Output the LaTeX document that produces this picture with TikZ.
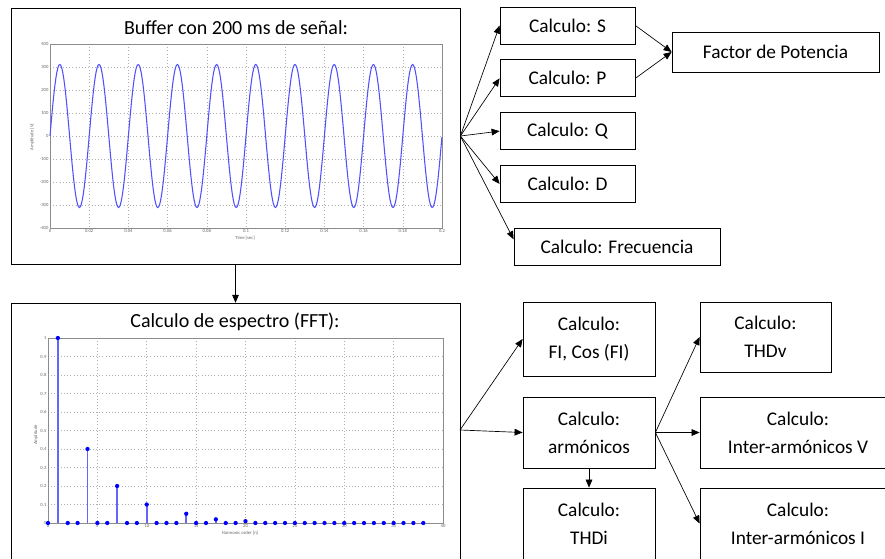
\documentclass[tikz,border=0pt]{standalone}
\usepackage{fontspec}
\setmainfont{Carlito}
\usetikzlibrary{
    positioning, % Para posicionar nodos de forma relativa (ej: below=of)
    arrows.meta  % Para las puntas de flecha (Triangle)
}
\definecolor{senal}{RGB}{80,80,255}
\definecolor{tallo}{RGB}{100,100,255}
\definecolor{punto}{RGB}{0,0,255}
\definecolor{rejilla}{RGB}{175,175,175}
\definecolor{ejes}{RGB}{140,140,140}

\begin{document}
\begin{tikzpicture}[x=0.75pt, y=-0.75pt]

    % --- Estilos ---
    \tikzset{
        % Cajas de cada calculo
        calc_box/.style={
            draw,
            line width=0.6pt,
            align=center,
            inner sep=0pt,
            minimum height=27.75pt,
            font=\fontsize{14.5}{21}\selectfont
        },
        % Marco de los graficos
        plot_frame/.style={
            draw,
            line width=0.6pt,
            inner sep=0pt,
            minimum width=336.75pt
        },
        % Titulos de los graficos
        title_text/.style={
            font=\fontsize{15}{18}\selectfont
        },
        % Flechas entre bloques
        link_arrow/.style={
            -{Triangle[length=6pt, width=5pt]},
            line width=0.5pt
        },
        grid_line/.style={rejilla, dotted, line width=0.4pt},
        tick_text/.style={font=\fontsize{3.5}{4}\selectfont, text=black!60, inner sep=1pt},
        stem_line/.style={tallo, line width=1.3pt}
    }

    \useasboundingbox (0,0) rectangle (885,558);
    \fill[white] (0,0) rectangle (885,558);

    % --- Marcos de los graficos ---
    \node[plot_frame, minimum height=192pt] (buffer) at (235.5,136) {};
    \node[plot_frame, minimum height=200pt] (espectro) at (235.5,436.5) {};

    \node[title_text] (buffer_title) at (236,28) {Buffer con 200 ms de señal:};
    \node[title_text] (espectro_title) at (235,322) {Calculo de espectro (FFT):};

    % --- Senal en el tiempo (10 ciclos) ---
    \foreach \i in {0,...,10}
        \draw[grid_line] ({50+39.2*\i},44) -- ({50+39.2*\i},228);
    \foreach \j in {0,...,8}
        \draw[grid_line] (50,{44+23*\j}) -- (442,{44+23*\j});
    \draw[ejes, line width=0.5pt] (50,44) rectangle (442,228);
    \foreach \v [count=\j from 0] in {400,300,200,100,0,-100,-200,-300,-400}
        \node[tick_text, anchor=east] at (50,{44+23*\j}) {\v};
    \foreach \t [count=\i from 0] in {0,0.02,0.04,0.06,0.08,0.1,0.12,0.14,0.16,0.18,0.2}
        \node[tick_text, anchor=north] at ({50+39.2*\i},228) {\t};
    \node[tick_text, rotate=90] (amp_v) at (32,137) {Amplitude [V]};
    \node[tick_text] (time_label) at (245,238) {Time [sec]};
    \draw[senal, line width=0.8pt] plot[domain=0:10, samples=401]
        ({50+39.2*\x}, {136-71.53*sin(360*\x)});

    % --- Espectro ---
    \foreach \k in {0,...,8}
        \draw[grid_line] ({48+49.375*\k},338) -- ({48+49.375*\k},523);
    \foreach \j in {0,...,10}
        \draw[grid_line] (48,{338+18.5*\j}) -- (443,{338+18.5*\j});
    \draw[ejes, line width=0.5pt] (48,338) rectangle (443,523);
    \foreach \v [count=\j from 0] in {1,0.9,0.8,0.7,0.6,0.5,0.4,0.3,0.2,0.1,0}
        \node[tick_text, anchor=east] at (48,{338+18.5*\j}) {\v};
    \foreach \h [count=\k from 0] in {0,5,10,15,20,25,30,35,40}
        \node[tick_text, anchor=north] at ({48+49.375*\k},523) {\h};
    \node[tick_text, rotate=90] (amp_n) at (36,435) {Amplitude};
    \node[tick_text] (order_label) at (240,533) {Harmonic order [n]};
    \foreach \n/\a in {1/1,4/0.4,7/0.2,10/0.1,14/0.05,17/0.02,20/0.01} {
        \draw[stem_line] ({48+9.875*\n},523) -- ({48+9.875*\n},{523-185*\a});
        \fill[punto] ({48+9.875*\n},{523-185*\a}) circle[radius=1.6pt];
    }
    \foreach \n in {0,2,3,5,6,8,9,11,12,13,15,16,18,19,21,22,...,38}
        \fill[punto] ({48+9.875*\n},523) circle[radius=1.6pt];

    % --- Calculos sobre la senal ---
    \node[calc_box, minimum width=101.25pt] (calcS) at (567.5,25.5) {Calculo: S};
    \node[calc_box, minimum width=101.25pt, below=11.25pt of calcS] (calcP) {Calculo: P};
    \node[calc_box, minimum width=101.25pt, below=11.25pt of calcP] (calcQ) {Calculo: Q};
    \node[calc_box, minimum width=101.25pt, below=11.25pt of calcQ] (calcD) {Calculo: D};
    \node[calc_box, minimum width=154.5pt] (calcF) at (617,246.5) {Calculo: Frecuencia};
    \node[calc_box, minimum width=155.25pt, minimum height=30pt] (factorP) at (775.5,52) {Factor de Potencia};

    % --- Calculos sobre el espectro ---
    \node[calc_box, minimum width=99pt, minimum height=55.5pt] (calcFI) at (589,339) {Calculo:\\FI, Cos (FI)};
    \node[calc_box, minimum width=99pt, minimum height=53.25pt] (calcArm) at (589,432.5) {Calculo:\\armónicos};
    \node[calc_box, minimum width=99pt, minimum height=53.25pt] (calcTHDi) at (589,523.5) {Calculo:\\THDi};
    \node[calc_box, minimum width=98.25pt, minimum height=52.5pt] (calcTHDv) at (765.5,337) {Calculo:\\THDv};
    \node[calc_box, minimum width=147pt, minimum height=53.25pt] (calcIV) at (798,432.5) {Calculo:\\Inter-armónicos V};
    \node[calc_box, minimum width=147pt, minimum height=53.25pt] (calcII) at (798,523.5) {Calculo:\\Inter-armónicos I};

    % --- Flechas ---
    \draw[link_arrow] (buffer.south) -- (espectro.north);

    \draw[link_arrow] (buffer.east) -- (calcS.west);
    \draw[link_arrow] (buffer.east) -- (calcP.west);
    \draw[link_arrow] (buffer.east) -- (calcQ.west);
    \draw[link_arrow] (buffer.east) -- (calcD.west);
    \draw[link_arrow] (buffer.east) -- (calcF.176);
    \draw[link_arrow] (calcS.east) -- (factorP.west);
    \draw[link_arrow] (calcP.east) -- (factorP.west);

    \coordinate (fft_out) at (460,430);
    \draw[link_arrow] (fft_out) -- (calcFI.west);
    \draw[link_arrow] (fft_out) -- (calcArm.west);
    \draw[link_arrow] (calcArm.east) -- (calcTHDv.west);
    \draw[link_arrow] (calcArm.east) -- (calcIV.west);
    \draw[link_arrow] (calcArm.east) -- (calcII.west);
    \draw[link_arrow] (calcArm.south) -- (calcTHDi.north);

\end{tikzpicture}
\end{document}
